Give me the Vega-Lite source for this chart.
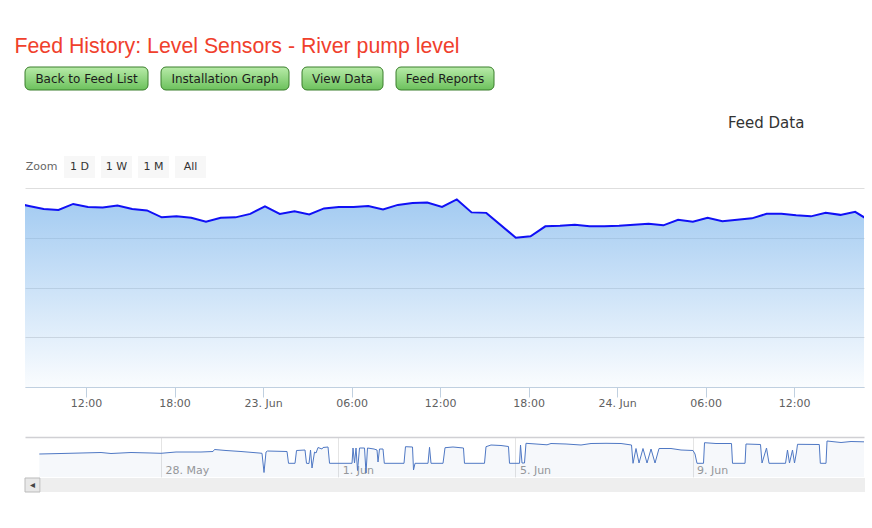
{
  "$schema": "https://vega.github.io/schema/vega-lite/v6.json",
  "background": "white",
  "padding": {"left": 14, "top": 36, "right": 0, "bottom": 0},
  "config": {"view": {"stroke": null}, "font": "DejaVu Sans"},
  "title": {"text": "Feed History: Level Sensors - River pump level", "anchor": "start", "dx": -10, "font": "Liberation Sans", "fontSize": 21.3, "fontWeight": "normal", "color": "#f0402c", "offset": 9},
  "spacing": 25,
  "vconcat": [
    {
      "spacing": 11,
      "hconcat": [
        {"width": 123, "height": 23, "data": {"values": [{"label": "Back to Feed List"}]},
         "layer": [
           {"mark": {"type": "rect", "cornerRadius": 5, "stroke": "#3b7f2d", "strokeWidth": 1, "fill": {"gradient": "linear", "x1": 0, "y1": 0, "x2": 0, "y2": 1, "stops": [{"offset": 0, "color": "#b8eba9"}, {"offset": 1, "color": "#6cc15c"}]}}},
           {"mark": {"type": "text", "fontSize": 12, "color": "#1c1c1c", "font": "DejaVu Sans"}, "encoding": {"text": {"field": "label"}}}
         ]},
        {"width": 128, "height": 23, "data": {"values": [{"label": "Installation Graph"}]},
         "layer": [
           {"mark": {"type": "rect", "cornerRadius": 5, "stroke": "#3b7f2d", "strokeWidth": 1, "fill": {"gradient": "linear", "x1": 0, "y1": 0, "x2": 0, "y2": 1, "stops": [{"offset": 0, "color": "#b8eba9"}, {"offset": 1, "color": "#6cc15c"}]}}},
           {"mark": {"type": "text", "fontSize": 12, "color": "#1c1c1c", "font": "DejaVu Sans"}, "encoding": {"text": {"field": "label"}}}
         ]},
        {"width": 81, "height": 23, "data": {"values": [{"label": "View Data"}]},
         "layer": [
           {"mark": {"type": "rect", "cornerRadius": 5, "stroke": "#3b7f2d", "strokeWidth": 1, "fill": {"gradient": "linear", "x1": 0, "y1": 0, "x2": 0, "y2": 1, "stops": [{"offset": 0, "color": "#b8eba9"}, {"offset": 1, "color": "#6cc15c"}]}}},
           {"mark": {"type": "text", "fontSize": 12, "color": "#1c1c1c", "font": "DejaVu Sans"}, "encoding": {"text": {"field": "label"}}}
         ]},
        {"width": 98, "height": 23, "data": {"values": [{"label": "Feed Reports"}]},
         "layer": [
           {"mark": {"type": "rect", "cornerRadius": 5, "stroke": "#3b7f2d", "strokeWidth": 1, "fill": {"gradient": "linear", "x1": 0, "y1": 0, "x2": 0, "y2": 1, "stops": [{"offset": 0, "color": "#b8eba9"}, {"offset": 1, "color": "#6cc15c"}]}}},
           {"mark": {"type": "text", "fontSize": 12, "color": "#1c1c1c", "font": "DejaVu Sans"}, "encoding": {"text": {"field": "label"}}}
         ]}
      ]
    },
    {
      "spacing": 10,
      "vconcat": [
        {
          "title": {"text": "Feed Data", "anchor": "start", "dx": 703, "font": "DejaVu Sans", "fontSize": 15, "fontWeight": "normal", "color": "#333333", "offset": 25},
          "spacing": 6,
          "hconcat": [
            {"width": 33, "height": 22, "data": {"values": [{"label": "Zoom"}]}, "mark": {"type": "text", "fontSize": 11, "color": "#666666"}, "encoding": {"text": {"field": "label"}}},
            {"width": 31, "height": 22, "data": {"values": [{"label": "1 D"}]},
             "layer": [
               {"mark": {"type": "rect", "fill": "#f7f7f7"}},
               {"mark": {"type": "text", "fontSize": 11, "color": "#333333"}, "encoding": {"text": {"field": "label"}}}
             ]},
            {"width": 31, "height": 22, "data": {"values": [{"label": "1 W"}]},
             "layer": [
               {"mark": {"type": "rect", "fill": "#f7f7f7"}},
               {"mark": {"type": "text", "fontSize": 11, "color": "#333333"}, "encoding": {"text": {"field": "label"}}}
             ]},
            {"width": 31, "height": 22, "data": {"values": [{"label": "1 M"}]},
             "layer": [
               {"mark": {"type": "rect", "fill": "#f7f7f7"}},
               {"mark": {"type": "text", "fontSize": 11, "color": "#333333"}, "encoding": {"text": {"field": "label"}}}
             ]},
            {"width": 31, "height": 22, "data": {"values": [{"label": "All"}]},
             "layer": [
               {"mark": {"type": "rect", "fill": "#f7f7f7"}},
               {"mark": {"type": "text", "fontSize": 11, "color": "#333333"}, "encoding": {"text": {"field": "label"}}}
             ]}
          ]
        },
        {
          "spacing": 29,
          "vconcat": [
            {
              "width": 839, "height": 199,
              "data": {"format": {"parse": {"time": "date"}}, "values": [
                {"time": "2014-06-22T07:08:00", "level": 3.70},
                {"time": "2014-06-22T08:08:00", "level": 3.64},
                {"time": "2014-06-22T09:08:00", "level": 3.58},
                {"time": "2014-06-22T10:08:00", "level": 3.56},
                {"time": "2014-06-22T11:08:00", "level": 3.68},
                {"time": "2014-06-22T12:08:00", "level": 3.62},
                {"time": "2014-06-22T13:08:00", "level": 3.61},
                {"time": "2014-06-22T14:08:00", "level": 3.65},
                {"time": "2014-06-22T15:08:00", "level": 3.58},
                {"time": "2014-06-22T16:08:00", "level": 3.55},
                {"time": "2014-06-22T17:08:00", "level": 3.41},
                {"time": "2014-06-22T18:08:00", "level": 3.43},
                {"time": "2014-06-22T19:08:00", "level": 3.40},
                {"time": "2014-06-22T20:08:00", "level": 3.32},
                {"time": "2014-06-22T21:08:00", "level": 3.40},
                {"time": "2014-06-22T22:08:00", "level": 3.41},
                {"time": "2014-06-22T23:08:00", "level": 3.48},
                {"time": "2014-06-23T00:08:00", "level": 3.63},
                {"time": "2014-06-23T01:08:00", "level": 3.48},
                {"time": "2014-06-23T02:08:00", "level": 3.53},
                {"time": "2014-06-23T03:08:00", "level": 3.47},
                {"time": "2014-06-23T04:08:00", "level": 3.59},
                {"time": "2014-06-23T05:08:00", "level": 3.62},
                {"time": "2014-06-23T06:08:00", "level": 3.62},
                {"time": "2014-06-23T07:08:00", "level": 3.64},
                {"time": "2014-06-23T08:08:00", "level": 3.57},
                {"time": "2014-06-23T09:08:00", "level": 3.66},
                {"time": "2014-06-23T10:08:00", "level": 3.70},
                {"time": "2014-06-23T11:08:00", "level": 3.71},
                {"time": "2014-06-23T12:08:00", "level": 3.62},
                {"time": "2014-06-23T13:08:00", "level": 3.77},
                {"time": "2014-06-23T14:08:00", "level": 3.51},
                {"time": "2014-06-23T15:08:00", "level": 3.50},
                {"time": "2014-06-23T17:08:00", "level": 3.00},
                {"time": "2014-06-23T18:08:00", "level": 3.03},
                {"time": "2014-06-23T19:08:00", "level": 3.23},
                {"time": "2014-06-23T20:08:00", "level": 3.24},
                {"time": "2014-06-23T21:08:00", "level": 3.26},
                {"time": "2014-06-23T22:08:00", "level": 3.23},
                {"time": "2014-06-23T23:08:00", "level": 3.23},
                {"time": "2014-06-24T00:08:00", "level": 3.24},
                {"time": "2014-06-24T01:08:00", "level": 3.26},
                {"time": "2014-06-24T02:08:00", "level": 3.28},
                {"time": "2014-06-24T03:08:00", "level": 3.25},
                {"time": "2014-06-24T04:08:00", "level": 3.36},
                {"time": "2014-06-24T05:08:00", "level": 3.32},
                {"time": "2014-06-24T06:08:00", "level": 3.40},
                {"time": "2014-06-24T07:08:00", "level": 3.33},
                {"time": "2014-06-24T08:08:00", "level": 3.36},
                {"time": "2014-06-24T09:08:00", "level": 3.39},
                {"time": "2014-06-24T10:08:00", "level": 3.48},
                {"time": "2014-06-24T11:08:00", "level": 3.48},
                {"time": "2014-06-24T12:08:00", "level": 3.45},
                {"time": "2014-06-24T13:08:00", "level": 3.43},
                {"time": "2014-06-24T14:08:00", "level": 3.50},
                {"time": "2014-06-24T15:08:00", "level": 3.46},
                {"time": "2014-06-24T16:08:00", "level": 3.52},
                {"time": "2014-06-24T17:08:00", "level": 3.34}
              ]},
              "encoding": {
                "x": {"field": "time", "type": "temporal",
                      "scale": {"domain": [{"year": 2014, "month": 6, "date": 22, "hours": 7, "minutes": 52}, {"year": 2014, "month": 6, "date": 24, "hours": 16, "minutes": 44}]},
                      "axis": {"orient": "bottom",
                               "values": [{"year": 2014, "month": 6, "date": 22, "hours": 12}, {"year": 2014, "month": 6, "date": 22, "hours": 18}, {"year": 2014, "month": 6, "date": 23, "hours": 0}, {"year": 2014, "month": 6, "date": 23, "hours": 6}, {"year": 2014, "month": 6, "date": 23, "hours": 12}, {"year": 2014, "month": 6, "date": 23, "hours": 18}, {"year": 2014, "month": 6, "date": 24, "hours": 0}, {"year": 2014, "month": 6, "date": 24, "hours": 6}, {"year": 2014, "month": 6, "date": 24, "hours": 12}],
                               "labelExpr": "hours(datum.value) == 0 ? timeFormat(datum.value, '%-d. %b') : timeFormat(datum.value, '%H:%M')", "grid": false, "domainColor": "#c0d0e0", "tickColor": "#c0d0e0", "tickSize": 10, "labelColor": "#606060", "labelFontSize": 11, "labelFont": "DejaVu Sans", "labelPadding": 0, "title": null, "labelFlush": false, "labelOverlap": false}},
                "y": {"field": "level", "type": "quantitative",
                      "scale": {"domain": [0, 4], "nice": false},
                      "axis": {"orient": "left", "values": [0, 1, 2, 3, 4], "labels": false, "ticks": false, "domain": false, "grid": true, "gridColor": "#dedede", "title": null}}
              },
              "layer": [
                {"mark": {"type": "area", "clip": true, "fill": {"gradient": "linear", "x1": 0, "y1": 0, "x2": 0, "y2": 1, "stops": [{"offset": 0, "color": "rgba(124,181,236,0.7)"}, {"offset": 1, "color": "rgba(124,181,236,0.04)"}]}}},
                {"mark": {"type": "line", "clip": true, "stroke": "#1010f5", "strokeWidth": 2}}
              ]
            },
            {
              "spacing": 0,
              "vconcat": [
                {
                  "width": 839, "height": 40,
                  "data": {"format": {"parse": {"time": "date"}}, "values": [
                    {"time": "2014-05-25T06:04:00", "level": 2.30},
                    {"time": "2014-05-25T17:50:00", "level": 2.35},
                    {"time": "2014-05-26T04:40:00", "level": 2.40},
                    {"time": "2014-05-26T15:30:00", "level": 2.45},
                    {"time": "2014-05-26T20:54:00", "level": 2.35},
                    {"time": "2014-05-27T07:45:00", "level": 2.45},
                    {"time": "2014-05-27T18:35:00", "level": 2.40},
                    {"time": "2014-05-28T00:00:00", "level": 2.37},
                    {"time": "2014-05-28T08:08:00", "level": 2.50},
                    {"time": "2014-05-28T21:40:00", "level": 2.50},
                    {"time": "2014-05-29T04:10:00", "level": 2.55},
                    {"time": "2014-05-29T04:59:00", "level": 2.75},
                    {"time": "2014-05-29T11:13:00", "level": 2.65},
                    {"time": "2014-05-29T19:20:00", "level": 2.55},
                    {"time": "2014-05-30T05:05:00", "level": 2.40},
                    {"time": "2014-05-30T06:43:00", "level": 2.37},
                    {"time": "2014-05-30T07:48:00", "level": 0.45},
                    {"time": "2014-05-30T08:53:00", "level": 2.50},
                    {"time": "2014-05-30T09:42:00", "level": 2.60},
                    {"time": "2014-05-30T20:16:00", "level": 2.55},
                    {"time": "2014-05-30T21:05:00", "level": 1.37},
                    {"time": "2014-05-31T00:36:00", "level": 1.37},
                    {"time": "2014-05-31T01:25:00", "level": 2.65},
                    {"time": "2014-05-31T06:01:00", "level": 2.70},
                    {"time": "2014-05-31T06:49:00", "level": 1.37},
                    {"time": "2014-05-31T08:11:00", "level": 1.35},
                    {"time": "2014-05-31T09:00:00", "level": 2.70},
                    {"time": "2014-05-31T09:49:00", "level": 0.90},
                    {"time": "2014-05-31T11:10:00", "level": 2.50},
                    {"time": "2014-05-31T11:59:00", "level": 2.40},
                    {"time": "2014-05-31T13:04:00", "level": 2.95},
                    {"time": "2014-05-31T15:13:00", "level": 2.80},
                    {"time": "2014-05-31T15:46:00", "level": 2.95},
                    {"time": "2014-05-31T18:29:00", "level": 3.00},
                    {"time": "2014-05-31T19:18:00", "level": 1.37},
                    {"time": "2014-06-01T07:29:00", "level": 1.37},
                    {"time": "2014-06-01T08:01:00", "level": 2.90},
                    {"time": "2014-06-01T08:50:00", "level": 1.40},
                    {"time": "2014-06-01T09:39:00", "level": 2.90},
                    {"time": "2014-06-01T10:28:00", "level": 0.65},
                    {"time": "2014-06-01T11:33:00", "level": 2.90},
                    {"time": "2014-06-01T14:15:00", "level": 2.90},
                    {"time": "2014-06-01T15:04:00", "level": 0.40},
                    {"time": "2014-06-01T15:52:00", "level": 2.90},
                    {"time": "2014-06-01T19:24:00", "level": 2.80},
                    {"time": "2014-06-01T21:01:00", "level": 2.70},
                    {"time": "2014-06-01T21:34:00", "level": 1.50},
                    {"time": "2014-06-01T22:22:00", "level": 2.80},
                    {"time": "2014-06-02T00:16:00", "level": 2.80},
                    {"time": "2014-06-02T00:59:00", "level": 1.37},
                    {"time": "2014-06-02T11:39:00", "level": 1.37},
                    {"time": "2014-06-02T12:27:00", "level": 3.03},
                    {"time": "2014-06-02T16:15:00", "level": 3.00},
                    {"time": "2014-06-02T16:48:00", "level": 0.70},
                    {"time": "2014-06-02T17:37:00", "level": 1.37},
                    {"time": "2014-06-03T00:39:00", "level": 1.37},
                    {"time": "2014-06-03T01:28:00", "level": 2.97},
                    {"time": "2014-06-03T02:17:00", "level": 1.37},
                    {"time": "2014-06-03T08:47:00", "level": 1.37},
                    {"time": "2014-06-03T09:52:00", "level": 2.93},
                    {"time": "2014-06-03T14:11:00", "level": 3.00},
                    {"time": "2014-06-03T19:52:00", "level": 2.90},
                    {"time": "2014-06-03T20:25:00", "level": 1.37},
                    {"time": "2014-06-04T07:15:00", "level": 1.37},
                    {"time": "2014-06-04T08:04:00", "level": 3.03},
                    {"time": "2014-06-04T10:47:00", "level": 3.20},
                    {"time": "2014-06-04T16:12:00", "level": 3.15},
                    {"time": "2014-06-04T20:15:00", "level": 3.05},
                    {"time": "2014-06-04T20:48:00", "level": 1.37},
                    {"time": "2014-06-05T02:14:00", "level": 1.37},
                    {"time": "2014-06-05T02:46:00", "level": 3.20},
                    {"time": "2014-06-05T03:35:00", "level": 1.40},
                    {"time": "2014-06-05T04:55:00", "level": 1.40},
                    {"time": "2014-06-05T05:44:00", "level": 3.37},
                    {"time": "2014-06-05T11:10:00", "level": 3.30},
                    {"time": "2014-06-05T17:07:00", "level": 3.22},
                    {"time": "2014-06-05T19:17:00", "level": 3.35},
                    {"time": "2014-06-06T03:25:00", "level": 3.30},
                    {"time": "2014-06-06T11:33:00", "level": 3.20},
                    {"time": "2014-06-06T16:58:00", "level": 3.35},
                    {"time": "2014-06-07T01:05:00", "level": 3.37},
                    {"time": "2014-06-07T09:13:00", "level": 3.35},
                    {"time": "2014-06-07T14:54:00", "level": 3.20},
                    {"time": "2014-06-07T15:43:00", "level": 1.37},
                    {"time": "2014-06-07T17:20:00", "level": 2.85},
                    {"time": "2014-06-07T18:58:00", "level": 1.40},
                    {"time": "2014-06-07T21:07:00", "level": 2.85},
                    {"time": "2014-06-07T23:18:00", "level": 1.40},
                    {"time": "2014-06-08T01:28:00", "level": 2.80},
                    {"time": "2014-06-08T03:38:00", "level": 1.40},
                    {"time": "2014-06-08T05:48:00", "level": 2.85},
                    {"time": "2014-06-08T12:17:00", "level": 2.85},
                    {"time": "2014-06-08T17:43:00", "level": 2.70},
                    {"time": "2014-06-09T00:13:00", "level": 2.65},
                    {"time": "2014-06-09T01:18:00", "level": 2.30},
                    {"time": "2014-06-09T02:23:00", "level": 1.37},
                    {"time": "2014-06-09T05:54:00", "level": 1.37},
                    {"time": "2014-06-09T06:27:00", "level": 3.43},
                    {"time": "2014-06-09T12:40:00", "level": 3.35},
                    {"time": "2014-06-09T21:04:00", "level": 3.35},
                    {"time": "2014-06-09T21:37:00", "level": 1.37},
                    {"time": "2014-06-10T04:24:00", "level": 1.37},
                    {"time": "2014-06-10T04:55:00", "level": 3.30},
                    {"time": "2014-06-10T12:47:00", "level": 3.25},
                    {"time": "2014-06-10T13:36:00", "level": 1.40},
                    {"time": "2014-06-10T16:02:00", "level": 2.90},
                    {"time": "2014-06-10T17:24:00", "level": 1.37},
                    {"time": "2014-06-11T02:20:00", "level": 1.37},
                    {"time": "2014-06-11T03:24:00", "level": 2.70},
                    {"time": "2014-06-11T04:29:00", "level": 1.40},
                    {"time": "2014-06-11T06:07:00", "level": 2.70},
                    {"time": "2014-06-11T07:12:00", "level": 1.40},
                    {"time": "2014-06-11T08:17:00", "level": 2.50},
                    {"time": "2014-06-11T08:50:00", "level": 3.27},
                    {"time": "2014-06-11T20:38:00", "level": 3.25},
                    {"time": "2014-06-11T21:11:00", "level": 1.37},
                    {"time": "2014-06-12T00:16:00", "level": 1.37},
                    {"time": "2014-06-12T00:49:00", "level": 3.60},
                    {"time": "2014-06-12T08:24:00", "level": 3.45},
                    {"time": "2014-06-12T13:49:00", "level": 3.55},
                    {"time": "2014-06-13T00:39:00", "level": 3.50}
                  ]},
                  "encoding": {
                    "y": {"field": "level", "type": "quantitative", "scale": {"domain": [0, 4], "nice": false}, "axis": null}
                  },
                  "layer": [
                    {"mark": {"type": "area", "clip": true, "fill": "#4572a7", "fillOpacity": 0.05},
                     "encoding": {"x": {"field": "time", "type": "temporal",
                       "scale": {"domain": [{"year": 2014, "month": 5, "date": 24, "hours": 22, "minutes": 19}, {"year": 2014, "month": 6, "date": 12, "hours": 20, "minutes": 51}]},
                       "axis": {"orient": "bottom", "values": [{"year": 2014, "month": 5, "date": 28}, {"year": 2014, "month": 6, "date": 1}, {"year": 2014, "month": 6, "date": 5}, {"year": 2014, "month": 6, "date": 9}], "format": "%-d. %b", "grid": true, "gridColor": "#e4e4e4", "domain": false, "ticks": false, "labelAlign": "left", "labelBaseline": "alphabetic", "labelPadding": -4, "labelOffset": 4, "labelColor": "#999999", "labelFontSize": 11, "title": null, "labelFlush": false, "labelOverlap": false}}}},
                    {"mark": {"type": "line", "clip": true, "stroke": "#4f78c4", "strokeWidth": 1},
                     "encoding": {"x": {"field": "time", "type": "temporal",
                       "axis": {"orient": "top", "labels": false, "ticks": false, "grid": false, "domainColor": "#d0d0d4", "domainWidth": 1.5, "title": null}}}}
                  ],
                  "resolve": {"axis": {"x": "independent"}}
                },
                {
                  "spacing": 0,
                  "hconcat": [
                    {"width": 15, "height": 14, "data": {"values": [{"button": "◂"}]},
                     "layer": [
                       {"mark": {"type": "rect", "fill": "#e8e8e8", "stroke": "#bbbbbb", "strokeWidth": 1}},
                       {"mark": {"type": "text", "fontSize": 10, "color": "#444444"}, "encoding": {"text": {"field": "button"}}}
                     ]},
                    {"width": 824, "height": 14, "data": {"values": [{"track": "scroll"}]},
                     "mark": {"type": "rect", "fill": "#eeeeee"}}
                  ]
                }
              ]
            }
          ]
        }
      ]
    }
  ]
}
